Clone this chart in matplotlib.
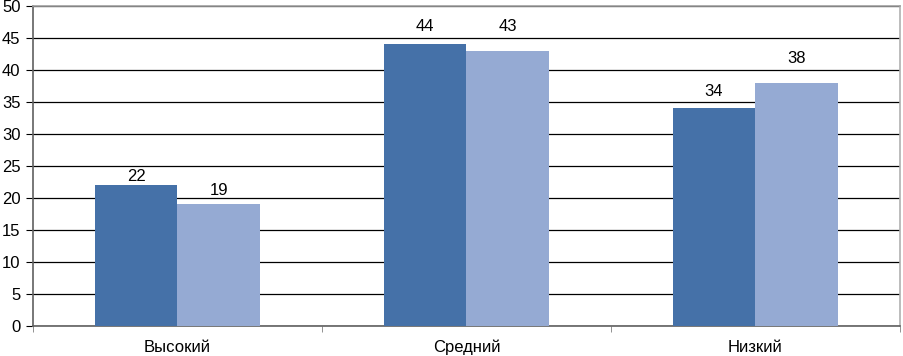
import numpy as np
import matplotlib.pyplot as plt

categories = ['Высокий', 'Средний', 'Низкий']
series_a = [22, 44, 34]
series_b = [19, 43, 38]

# label gaps above bars (pixels), the source chart had them nudged by hand
gap_a = [4, 13, 12]
gap_b = [9, 20, 20]

plt.rcParams['font.family'] = ['Liberation Sans', 'DejaVu Sans']

fig = plt.figure(figsize=(9.04, 3.56), dpi=100)
ax = fig.add_axes([33 / 904, 30 / 356, 867 / 904, 320 / 356])

x = np.arange(len(categories))
w = 0.287
bars_a = ax.bar(x - w / 2, series_a, w, color='#4571a8', zorder=3)
bars_b = ax.bar(x + w / 2, series_b, w, color='#95aad3', zorder=3)

for bars, gaps in ((bars_a, gap_a), (bars_b, gap_b)):
    for b, g in zip(bars, gaps):
        ax.annotate(f'{b.get_height():.0f}',
                    (b.get_x() + b.get_width() / 2, b.get_height()),
                    xytext=(0, g), textcoords='offset pixels',
                    ha='center', va='baseline', fontsize=12, zorder=4)

ax.set_xlim(-0.5, len(categories) - 0.5)
ax.set_ylim(0, 50)
ax.set_yticks(range(0, 51, 5))
ax.yaxis.grid(True, color='black', linewidth=0.9, zorder=0)
ax.set_axisbelow(True)

ax.set_xticks(x)
ax.set_xticklabels(categories, fontsize=12)
ax.set_xticks(np.arange(-0.5, len(categories), 1), minor=True)
ax.tick_params(axis='x', which='major', length=0, pad=10)
ax.tick_params(axis='x', which='minor', length=4, color='#808080')
ax.tick_params(axis='y', length=5, labelsize=12, color='black', pad=4)

ax.spines['left'].set_color('#606060')
ax.spines['bottom'].set_color('#606060')
ax.spines['top'].set_color('#a0a0a0')
ax.spines['right'].set_color('#b0b0b0')
for s in ax.spines.values():
    s.set_linewidth(1.2)

fig.savefig('out.png', dpi=100)
